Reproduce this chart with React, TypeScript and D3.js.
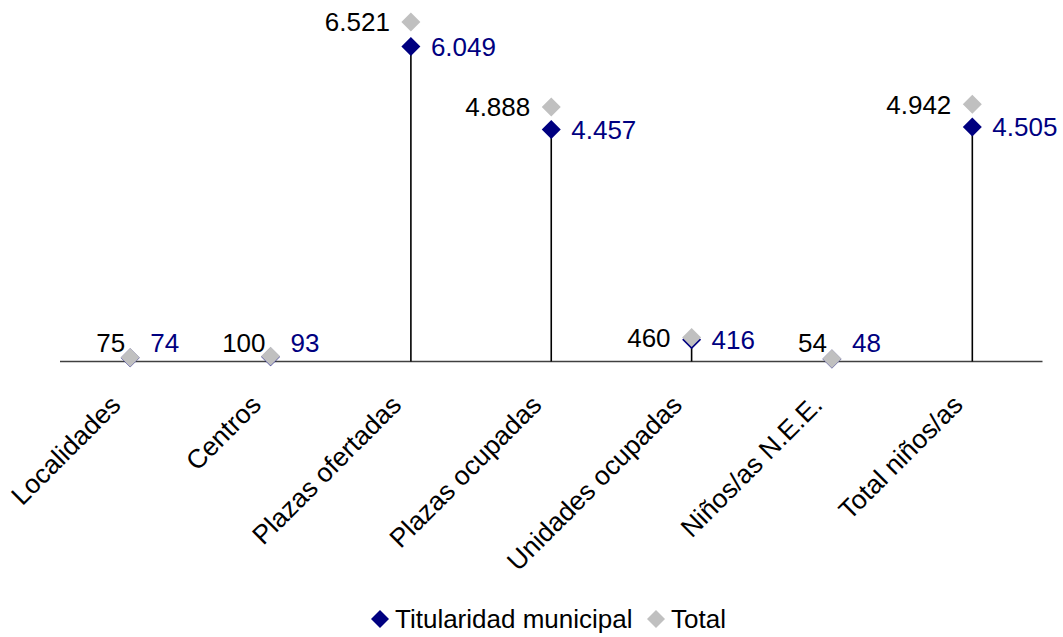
import React from "react";
import * as d3 from "d3";

const categories = [
  "Localidades",
  "Centros",
  "Plazas ofertadas",
  "Plazas ocupadas",
  "Unidades ocupadas",
  "Niños/as N.E.E.",
  "Total niños/as",
];
const municipal = [74, 93, 6049, 4457, 416, 48, 4505];
const total = [75, 100, 6521, 4888, 460, 54, 4942];
const seriesNames = ["Titularidad municipal", "Total"];

const W = 1063;
const H = 637;
const FONT = "'Liberation Sans', Arial, Helvetica, sans-serif";
const BLUE = "#000080";
const GRAY = "#c0c0c0";

const fmt = (v: number) => {
  const s = String(Math.round(v));
  return s.replace(/\B(?=(\d{3})+(?!\d))/g, ".");
};

const diamond = (cx: number, cy: number, r: number) =>
  `M${cx},${cy - r}L${cx + r},${cy}L${cx},${cy + r}L${cx - r},${cy}Z`;

export default function App() {
  const x = d3.scaleBand<string>().domain(categories).range([60, 1042.5]);
  const y = d3.scaleLinear().domain([0, 7000]).range([361.5, -3]);
  const cx = (c: string) => (x(c) as number) + x.bandwidth() / 2;
  const y0 = y(0);
  const clampLimit = y0 - 18.5;
  const isClamped = (v: number) => y(v) > clampLimit;
  const labelY = (v: number) => Math.min(y(v), clampLimit);
  const R = 9.5;

  return (
    <svg
      width={W}
      height={H}
      style={{ position: "absolute", left: 0, top: 0, background: "#fff" }}
      fontFamily={FONT}
    >
      {/* axis */}
      <line x1={60} x2={1042.5} y1={y0} y2={y0} stroke="#404040" strokeWidth={1.6} />
      {/* drop lines */}
      {categories.map((c, i) => (
        <line
          key={"d" + i}
          x1={cx(c)}
          x2={cx(c)}
          y1={y(municipal[i])}
          y2={y0}
          stroke="#000"
          strokeWidth={1.6}
        />
      ))}
      {/* municipal markers */}
      {categories.map((c, i) => (
        <path key={"m" + i} d={diamond(cx(c), y(municipal[i]), R)} fill={BLUE} />
      ))}
      {/* total markers */}
      {categories.map((c, i) => (
        <path key={"t" + i} d={diamond(cx(c), y(total[i]), R)} fill={GRAY} />
      ))}
      {/* labels */}
      {categories.map((c, i) => (
        <text
          key={"lt" + i}
          x={cx(c) - (isClamped(total[i]) ? 5 : 21)}
          y={labelY(total[i])}
          dy="0.36em"
          textAnchor="end"
          fontSize={26}
          fill="#000"
        >
          {fmt(total[i])}
        </text>
      ))}
      {categories.map((c, i) => (
        <text
          key={"lm" + i}
          x={cx(c) + 20}
          y={labelY(municipal[i])}
          dy="0.36em"
          textAnchor="start"
          fontSize={26}
          fill={BLUE}
        >
          {fmt(municipal[i])}
        </text>
      ))}
      {/* category labels */}
      {categories.map((c, i) => (
        <text
          key={"c" + i}
          transform={`translate(${cx(c) - 8},${y0 + 45}) rotate(-45)`}
          textAnchor="end"
          fontSize={26.5}
          fill="#000"
        >
          {c}
        </text>
      ))}
      {/* legend */}
      <g>
        <path d={diamond(380, 619, 9)} fill={BLUE} />
        <text x={395} y={619} dy="0.36em" fontSize={26} fill="#000">
          {seriesNames[0]}
        </text>
        <path d={diamond(656, 619, 9)} fill={GRAY} />
        <text x={671} y={619} dy="0.36em" fontSize={26} fill="#000">
          {seriesNames[1]}
        </text>
      </g>
    </svg>
  );
}
